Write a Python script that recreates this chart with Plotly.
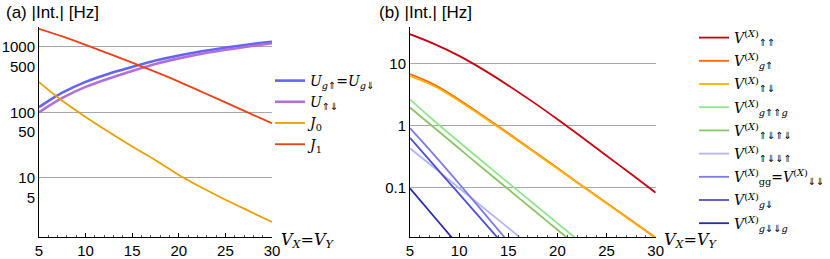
import plotly.graph_objects as go

# ---------------- data ----------------
x_vals = [5, 7.5, 10, 12.5, 15, 17.5, 20, 22.5, 25, 27.5, 30]

# panel (a)
U_g = [120, 200, 293, 390, 495, 620, 740, 860, 975, 1090, 1200]
U_ud = [100, 166, 245, 330, 430, 550, 670, 790, 905, 1020, 1140]
J0 = [290, 150, 85, 50, 30, 18.5, 11, 7.0, 4.6, 3.1, 2.1]
J1 = [1900, 1450, 1080, 790, 575, 415, 295, 205, 142, 98, 68]

# panel (b)
V_uu = [29.4, 20.4, 13.2, 7.85, 4.42, 2.40, 1.26, 0.646, 0.327, 0.166, 0.083]
V_gu = [6.71, 4.52, 2.60, 1.41, 0.750, 0.394, 0.207, 0.108, 0.0569, 0.0299, 0.0157]
V_ud = [6.24, 4.27, 2.48, 1.36, 0.730, 0.385, 0.203, 0.107, 0.0562, 0.0295, 0.0155]
V_guug = [2.63, 1.17, 0.543, 0.254, 0.120, 0.0569, 0.0269, 0.0127]
V_udud = [1.95, 0.912, 0.427, 0.200, 0.0944, 0.0447, 0.0211, 0.0100]
V_uddu = [0.431, 0.207, 0.0989, 0.0473, 0.0226, 0.0108]
V_gg = [0.908, 0.331, 0.116, 0.0398, 0.0135]
V_gd = [0.631, 0.224, 0.0794, 0.0282, 0.0100]
V_gddg = [0.0977, 0.0335, 0.0115]

a_ticks = [5, 10, 50, 100, 500, 1000]
a_grid = [10, 100, 1000]
b_ticks = [0.1, 1, 10]
x_ticks = [5, 10, 15, 20, 25, 30]

# ---------------- figure ----------------
fig = go.Figure()
SERIF = "DejaVu Serif"


def A(s):
    return f'<span style="font-family:DejaVu Sans">{s}</span>'


UP, DN = A("⇑"), A("⇓")


def S(s):
    return f"<sub>{s}</sub>"


V = "<i>V</i><sup>(<i>X</i>)</sup>"

left_series = [
    (U_g, "#6464f5", 2.6, f"<i>U</i>{S('<i>g</i>' + UP)}=<i>U</i>{S('<i>g</i>' + DN)}"),
    (U_ud, "#b070dc", 2.6, f"<i>U</i>{S(UP + DN)}"),
    (J0, "#e6a000", 1.8, f"<i>J</i>{S('0')}"),
    (J1, "#ee4018", 1.8, f"<i>J</i>{S('1')}"),
]
for i, (ys, col, w, name) in enumerate(left_series):
    fig.add_trace(go.Scatter(x=x_vals[:len(ys)], y=ys, mode="lines", name=name,
                             line=dict(color=col, width=w, shape="spline"),
                             xaxis="x", yaxis="y", legend="legend",
                             legendgroup=f"a{i}"))

right_series = [
    (V_uu, "#c8000f", V + S(UP + UP)),
    (V_gu, "#ff6600", V + S("<i>g</i>" + UP)),
    (V_ud, "#ffb000", V + S(UP + DN)),
    (V_guug, "#8ee68e", V + S("<i>g</i>" + UP + UP + "<i>g</i>")),
    (V_udud, "#8cc468", V + S(UP + DN + UP + DN)),
    (V_uddu, "#b4b4f6", V + S(UP + DN + DN + UP)),
    (V_gg, "#7c7ce6", V + S("gg") + "=" + V + S(DN + DN)),
    (V_gd, "#5050d0", V + S("<i>g</i>" + DN)),
    (V_gddg, "#2a2aae", V + S("<i>g</i>" + DN + DN + "<i>g</i>")),
]
for i, (ys, col, name) in enumerate(right_series):
    fig.add_trace(go.Scatter(x=x_vals[:len(ys)], y=ys, mode="lines", name=name,
                             line=dict(color=col, width=1.8, shape="spline"),
                             xaxis="x2", yaxis="y2", legend="legend2",
                             legendgroup=f"b{i}"))

W, H = 830, 259
TICKFONT = dict(family="Liberation Sans", size=15, color="black")

xcommon = dict(range=[5, 30], tickvals=x_ticks, ticks="inside", ticklen=4,
               tickcolor="black", showline=True, linecolor="black", linewidth=1,
               showgrid=False, zeroline=False, tickfont=TICKFONT,
               minor=dict(dtick=1, ticks="inside", ticklen=2, tickcolor="#555"))

ycommon = dict(type="log", ticks="", showline=True, linecolor="black",
               linewidth=1, showgrid=False, zeroline=False, tickfont=TICKFONT)

fig.update_layout(
    width=W, height=H,
    margin=dict(l=0, r=0, t=0, b=0, autoexpand=False),
    paper_bgcolor="white", plot_bgcolor="white",
    showlegend=True,
    xaxis=dict(domain=[39 / W, 272 / W], anchor="y", **xcommon),
    xaxis2=dict(domain=[410 / W, 655.7 / W], anchor="y2", **xcommon),
    yaxis=dict(domain=[1 - 237 / H, 1 - 27 / H], anchor="x",
               range=[0.092, 3.306], tickvals=a_ticks,
               ticktext=[str(v) for v in a_ticks],
               minor=dict(tickmode="array", tickvals=a_grid, showgrid=True,
                          gridcolor="#a8a8a8", gridwidth=1, ticklen=0),
               **ycommon),
    yaxis2=dict(domain=[1 - 237.3 / H, 1 - 27 / H], anchor="x2",
                range=[-1.797, 1.584], tickvals=b_ticks,
                ticktext=["0.1", "1", "10"],
                minor=dict(tickmode="array", tickvals=b_ticks, showgrid=True,
                           gridcolor="#a8a8a8", gridwidth=1, ticklen=0),
                **ycommon),
    legend=dict(x=270 / W, y=1 - 65 / H, xanchor="left", yanchor="top",
                bgcolor="rgba(0,0,0,0)", borderwidth=0, tracegroupgap=0,
                font=dict(family=SERIF, size=14, color="black"),
                itemwidth=30),
    legend2=dict(x=1, y=1 - 22 / H, xanchor="right", yanchor="top",
                 bgcolor="rgba(0,0,0,0)", borderwidth=0, tracegroupgap=2,
                 font=dict(family=SERIF, size=14, color="black"),
                 itemwidth=30),
)

title_font = dict(family="Liberation Sans", size=17, color="black")
fig.add_annotation(text="(a) |Int.| [Hz]", xref="paper", yref="paper",
                   x=4 / W, y=1 - 12 / H, xanchor="left", yanchor="middle",
                   showarrow=False, font=title_font)
fig.add_annotation(text="(b) |Int.| [Hz]", xref="paper", yref="paper",
                   x=377 / W, y=1 - 12 / H, xanchor="left", yanchor="middle",
                   showarrow=False, font=title_font)

xt = "<i>V</i><sub><i>X</i></sub>=<i>V</i><sub><i>Y</i></sub>"
xfont = dict(family=SERIF, size=16, color="black")
fig.add_annotation(text=xt, xref="paper", yref="paper", x=279 / W, y=1 - 240 / H,
                   xanchor="left", yanchor="middle", showarrow=False, font=xfont)
fig.add_annotation(text=xt, xref="paper", yref="paper", x=662 / W, y=1 - 240 / H,
                   xanchor="left", yanchor="middle", showarrow=False, font=xfont)

fig.write_html("out.html",
               config={"displayModeBar": False},
               post_script="document.body.style.margin='0px';"
                           "document.body.style.overflow='hidden';")
